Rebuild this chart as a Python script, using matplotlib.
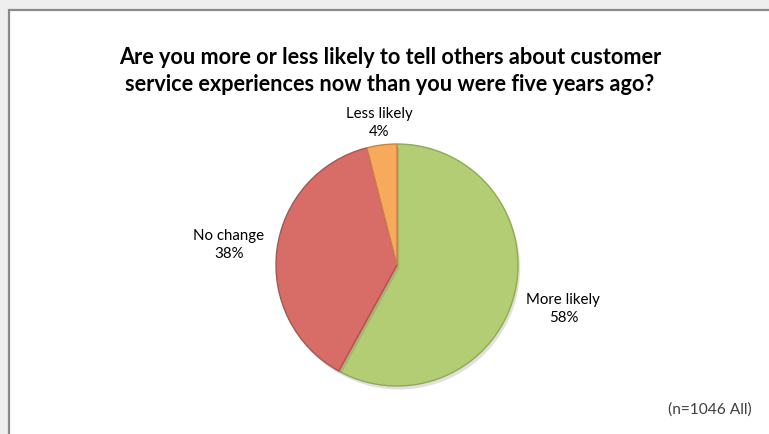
import matplotlib
matplotlib.use("Agg")
import numpy as np
import matplotlib.pyplot as plt
from matplotlib.patches import Rectangle
import matplotlib.patheffects as pe

# survey answers, clockwise from 12 o'clock
categorias = ["More likely", "No change", "Less likely"]
percentuais = [58, 38, 4]
cores = ["#b3cd74", "#d86c67", "#f7a95c"]
bordas = ["#8fa85a", "#b0524e", "#c98540"]

titulo = ("Are you more or less likely to tell others about customer\n"
          "service experiences now than you were five years ago?")
nota = "(n=1046 All)"

plt.rcParams["font.family"] = ["Lato", "DejaVu Sans"]

W, H = 769, 435
fig = plt.figure(figsize=(W / 100, H / 100), dpi=100, facecolor="#eeeeee")
ax = fig.add_axes([0, 0, 1, 1])

# white chart area with gray frame (runs off the right/bottom edges)
ax.add_patch(Rectangle((8.5, -20), W + 20, H - 10.5 + 20, facecolor="white",
                       edgecolor="#8a8a8a", linewidth=1.6, zorder=1))

ax.text(390, 364, titulo, ha="center", va="center", fontsize=15.6,
        fontweight="bold", color="black", linespacing=1.3, zorder=5)

cx, cy, r = 397, H - 266, 121
wedges, _ = ax.pie(percentuais, colors=cores, startangle=90, counterclock=False,
                   center=(cx, cy), radius=r, frame=True,
                   wedgeprops=dict(linewidth=1.0, zorder=3))
for w, b in zip(wedges, bordas):
    w.set_edgecolor(b)
    w.set_path_effects([pe.SimplePatchShadow(offset=(1.5, -2.5), alpha=0.18,
                                             shadow_rgbFace="#555555"),
                        pe.Normal()])

# labels outside each wedge
dist_rotulo = [1.42, 1.40, 1.19]
for w, nome, p, d in zip(wedges, categorias, percentuais, dist_rotulo):
    ang = np.deg2rad((w.theta1 + w.theta2) / 2)
    x = cx + d * r * np.cos(ang)
    y = cy + d * r * np.sin(ang)
    ax.text(x, y, f"{nome}\n{p}%", ha="center", va="center", fontsize=10.8,
            color="black", linespacing=1.35, zorder=5)

ax.set_xlim(0, W)
ax.set_ylim(0, H)
ax.set_aspect("equal")
ax.axis("off")

ax.text(752, 25, nota, ha="right", va="center", fontsize=11.2,
        color="#404040", zorder=5)

fig.savefig("out.png", dpi=100, facecolor=fig.get_facecolor())
